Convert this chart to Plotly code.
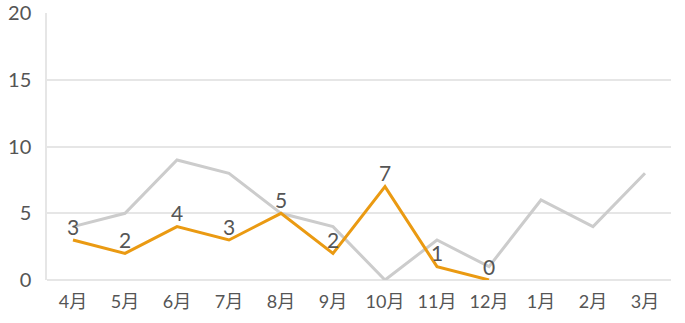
import plotly.graph_objects as go

months = ["4月", "5月", "6月", "7月", "8月", "9月", "10月", "11月", "12月", "1月", "2月", "3月"]
prev_year = [4, 5, 9, 8, 5, 4, 0, 3, 1, 6, 4, 8]
this_year = [3, 2, 4, 3, 5, 2, 7, 1, 0]
y_ticks = [0, 5, 10, 15, 20]

font_family = "Lato, Noto Sans CJK JP, sans-serif"

fig = go.Figure()
fig.add_trace(go.Scatter(
    x=months, y=prev_year, mode="lines",
    line=dict(color="#cccccc", width=3), hoverinfo="skip", showlegend=False,
))
fig.add_trace(go.Scatter(
    x=months[:len(this_year)], y=this_year, mode="lines+text",
    text=[str(v) for v in this_year], textposition="top center",
    textfont=dict(size=21, color="#555555", family=font_family),
    line=dict(color="#ea9a12", width=3), showlegend=False, cliponaxis=False,
))

fig.update_layout(
    width=685, height=323,
    margin=dict(l=47, r=14, t=13, b=43),
    paper_bgcolor="white", plot_bgcolor="white",
    font=dict(family=font_family, color="#555555"),
)
fig.update_xaxes(
    type="category", range=[-0.5, 11.5], automargin=False,
    showgrid=False, showline=False, zeroline=False,
    tickfont=dict(size=18, color="#555555"), ticks="", ticklabelstandoff=9,
)
fig.update_yaxes(
    range=[0, 20.02], tickvals=y_ticks, automargin=False,
    showgrid=True, gridcolor="#e6e6e6", gridwidth=1.5,
    showline=True, linecolor="#e6e6e6", linewidth=1.5,
    zeroline=True, zerolinecolor="#e6e6e6", zerolinewidth=1.5,
    tickfont=dict(size=20, color="#555555"), ticks="", ticklabelstandoff=10,
)
fig.write_html("out.html")
